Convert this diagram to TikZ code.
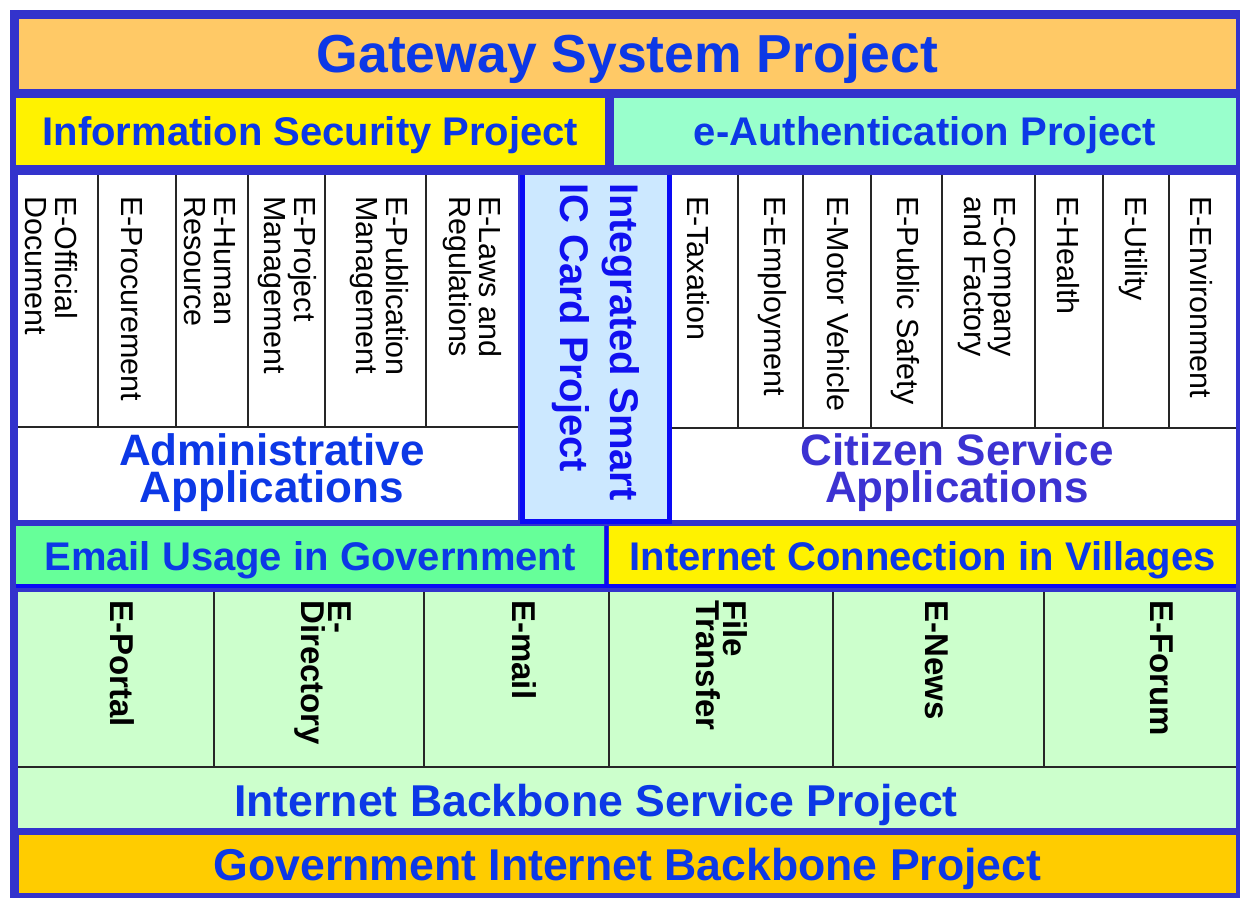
\documentclass[tikz,border=0pt]{standalone}
\usepackage{fontspec}
\setmainfont{Liberation Sans}
\usetikzlibrary{positioning}
\definecolor{frameblue}{RGB}{51,51,204}
\definecolor{edgeblue}{RGB}{10,10,245}
\definecolor{headblue}{RGB}{12,56,230}
\definecolor{citizenblue}{RGB}{60,50,210}
\definecolor{cardtext}{RGB}{16,16,240}
\definecolor{gatewayfill}{RGB}{255,201,102}
\definecolor{backbonefill}{RGB}{255,204,0}
\definecolor{authfill}{RGB}{153,255,204}
\definecolor{emailfill}{RGB}{102,255,153}
\definecolor{servicefill}{RGB}{204,255,204}
\definecolor{cardfill}{RGB}{204,232,255}

\begin{document}
\begin{tikzpicture}[x = 1pt, y = -1pt,
  box/.style = {anchor = north west, inner sep = 0pt, outer sep = 0pt},
  headline/.style = {text = headblue, font = \fontsize{40}{48}\selectfont\bfseries, text height = 28.6pt, text depth = 0pt},
  bighead/.style = {text = headblue, font = \fontsize{44.6}{50}\selectfont\bfseries, text height = 32pt, text depth = 0pt},
  applabel/.style = {inner sep = 0pt, font = \fontsize{44}{37}\selectfont\bfseries, text height = 31.5pt, text depth = 0pt},
  appitem/.style = {rotate = -90, anchor = west, align = left, inner sep = 0pt, font = \fontsize{30.5}{30}\selectfont},
  serviceitem/.style = {rotate = -90, anchor = west, align = left, inner sep = 0pt, font = \fontsize{33}{27}\selectfont\bfseries},
  divider/.style = {black!85, line width = 1.4pt},
  edge/.style = {edgeblue, line width = 5pt}]
\useasboundingbox (0,0) rectangle (1241,899);
\fill[frameblue] (10,10) rectangle (1240,898);

% project bands at the top
\node[box, fill = gatewayfill, minimum width = 1217pt, minimum height = 70pt, headline, font = \fontsize{53.5}{60}\selectfont\bfseries, text height = 38pt] (gateway) at (19,19) {Gateway System Project};
\node[box, fill = yellow, minimum width = 589pt, minimum height = 67pt, headline] (infosec) at (16,98) {Information Security Project};
\node[box, fill = authfill, minimum width = 622pt, minimum height = 67pt, headline] (eauth) at (614,98) {e-Authentication Project};

% application panels
\node[box, fill = white, minimum width = 500pt, minimum height = 345pt] (admin) at (18,175) {};
\node[box, fill = white, minimum width = 564pt, minimum height = 345pt] (citizen) at (672,175) {};
\node[box, fill = cardfill, minimum width = 147pt, minimum height = 346pt] (iccard) at (522,175) {};
\draw[edge] (iccard.north west) -- (iccard.south west) -- (iccard.south east) -- (iccard.north east);
\node[rotate = -90, align = left, inner sep = 0pt, text = cardtext, font = \fontsize{40}{50}\selectfont\bfseries] (iclabel) at (596,342) {Integrated Smart\\IC Card Project};

\draw[divider] (98,175) -- (98,427);
\draw[divider] (176,175) -- (176,427);
\draw[divider] (248,175) -- (248,427);
\draw[divider] (325,175) -- (325,427);
\draw[divider] (426,175) -- (426,427);
\draw[divider] (18,427) -- (518,427);
\node[appitem] (official) at (51,196) {E-Official\\Document};
\node[appitem] (procurement) at (132,196) {E-Procurement};
\node[appitem] (humanres) at (210,196) {E-Human\\Resource};
\node[appitem] (projectmgmt) at (287,196) {E-Project\\Management};
\node[appitem] (publication) at (379,196) {E-Publication\\Management};
\node[appitem] (laws) at (472,196) {E-Laws and\\Regulations};
\node[applabel, text = headblue, anchor = base] (admintop) at (272,465) {Administrative};
\node[applabel, text = headblue, anchor = base] (adminbottom) at (272,502) {Applications};

\draw[divider] (738,175) -- (738,428);
\draw[divider] (803,175) -- (803,428);
\draw[divider] (871,175) -- (871,428);
\draw[divider] (942,175) -- (942,428);
\draw[divider] (1035,175) -- (1035,428);
\draw[divider] (1103,175) -- (1103,428);
\draw[divider] (1169,175) -- (1169,428);
\draw[divider] (672,428) -- (1236,428);
\node[appitem] (taxation) at (698,196) {E-Taxation};
\node[appitem] (employment) at (772,196) {E-Employment};
\node[appitem] (motor) at (838,196) {E-Motor Vehicle};
\node[appitem] (safety) at (905,196) {E-Public Safety};
\node[appitem] (company) at (987,196) {E-Company\\and Factory};
\node[appitem] (health) at (1068,196) {E-Health};
\node[appitem] (utility) at (1133,196) {E-Utility};
\node[appitem] (environment) at (1201,196) {E-Environment};
\node[applabel, text = citizenblue, anchor = base] (citizentop) at (957,465) {Citizen Service};
\node[applabel, text = citizenblue, anchor = base] (citizenbottom) at (957,502) {Applications};

% usage bands
\node[box, fill = emailfill, minimum width = 588pt, minimum height = 60pt, headline] (email) at (16,526) {Email Usage in Government};
\node[box, fill = yellow, minimum width = 627pt, minimum height = 60pt, headline] (villages) at (609,526) {Internet Connection in Villages};
\draw[edge, line width = 4pt] (email.south west) -- (villages.south east);
\draw[edge, line width = 3pt] ([xshift = 2.5pt]email.north east) -- ([xshift = 2.5pt]email.south east);

% internet services
\node[box, fill = servicefill, minimum width = 1218pt, minimum height = 236pt] (services) at (18,592) {};
\draw[divider] (214,592) -- (214,767);
\draw[divider] (424,592) -- (424,767);
\draw[divider] (609,592) -- (609,767);
\draw[divider] (833,592) -- (833,767);
\draw[divider] (1044,592) -- (1044,767);
\draw[divider] (18,767) -- (1236,767);
\node[serviceitem] (portal) at (122,600) {E-Portal};
\node[serviceitem] (directory) at (323,600) {E-\\Directory};
\node[serviceitem] (mail) at (524,600) {E-mail};
\node[serviceitem] (filetransfer) at (722,600) {File\\Transfer};
\node[serviceitem] (news) at (937,600) {E-News};
\node[serviceitem] (forum) at (1162,600) {E-Forum};
\node[bighead, inner sep = 0pt] (servicelabel) at (596,800) {Internet Backbone Service Project};

% backbone band
\node[box, fill = backbonefill, minimum width = 1217pt, minimum height = 58pt, bighead] (backbone) at (19,835) {Government Internet Backbone Project};
\end{tikzpicture}
\end{document}
